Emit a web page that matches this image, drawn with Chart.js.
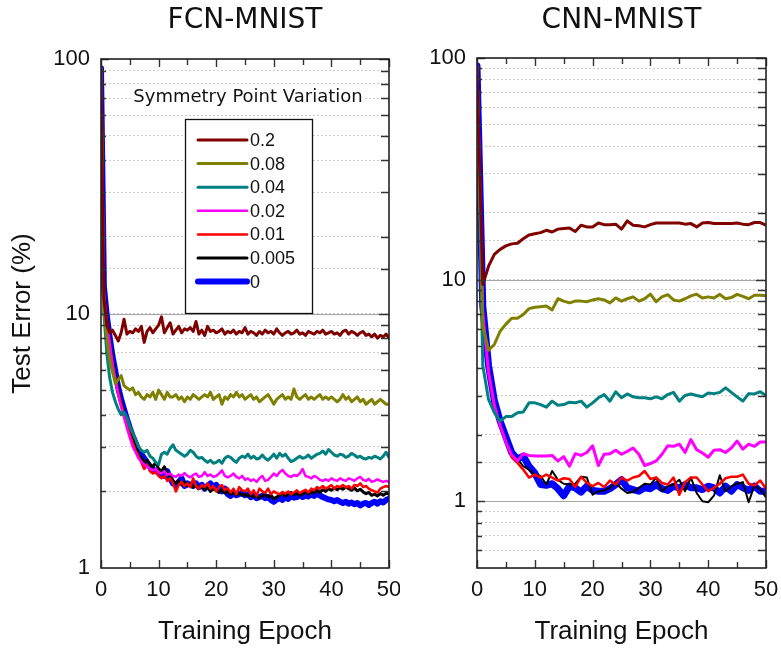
<!DOCTYPE html>
<html>
<head>
<meta charset="utf-8">
<script src="https://cdn.jsdelivr.net/npm/chart.js@4/dist/chart.umd.min.js"></script>
<style>
  html, body { margin: 0; padding: 0; background: #fff; }
  #wrap { position: relative; width: 781px; height: 652px; overflow: hidden; }
  canvas { position: absolute; top: 0; }
  #fcn { left: 0; }
  #cnn { left: 400px; }
</style>
</head>
<body>
<div id="wrap">
  <canvas id="fcn" width="400" height="652" style="width:400px;height:652px"></canvas>
  <canvas id="cnn" width="381" height="652" style="width:381px;height:652px"></canvas>
</div>
<script>
// ---- series labels (symmetry point variation) ----
const seriesNames = ['0.2', '0.08', '0.04', '0.02', '0.01', '0.005', '0'];
const seriesColors = ['#800000', '#808000', '#008080', '#ff00ff', '#ff0000', '#000000', '#0000ff'];

// ---- FCN-MNIST: test error (%) sampled every half epoch ----
const fcnEpochs = Array.from({ length: 101 }, (_, i) => i / 2);

const fcn02 = [
  92, 11.5, 9.0, 8.4, 8.6, 8.2, 7.8, 8.4, 9.5, 8.3,
  8.5, 8.4, 8.7, 8.5, 8.9, 7.7, 8.5, 8.8, 8.4, 8.7,
  9.0, 9.7, 8.4, 8.8, 9.2, 8.3, 8.6, 8.9, 8.4, 8.7,
  8.6, 8.8, 8.5, 9.3, 8.3, 8.6, 8.2, 8.9, 8.5, 8.6,
  8.4, 8.5, 8.7, 8.3, 8.5, 8.4, 8.6, 8.3, 8.5, 8.4,
  8.8, 8.3, 8.5, 8.4, 8.2, 8.5, 8.3, 8.6, 8.4, 8.5,
  8.3, 8.7, 8.4, 8.2, 8.4, 8.5, 8.3, 8.4, 8.6, 8.3,
  8.4, 8.2, 8.5, 8.4, 8.3, 8.5, 8.4, 8.6, 8.3, 8.4,
  8.5, 8.3, 8.4, 8.2, 8.5, 8.6, 8.3, 8.5, 8.4, 8.2,
  8.4, 8.5, 8.2, 8.3, 8.1, 8.3, 8.0, 8.2, 8.1, 8.3,
  8.0
];
const fcn008 = [
  92, 10.5, 8.0, 6.6, 5.9, 5.3, 5.5, 5.7, 5.2, 5.1,
  5.0, 5.1, 4.8, 4.9, 4.7, 4.6, 4.8, 4.7, 4.9, 4.6,
  5.0, 4.8, 4.6, 4.9, 4.7, 4.7, 4.8, 4.6, 4.7, 4.5,
  4.7, 4.6, 4.8, 4.7, 4.6, 4.7, 4.8, 4.7, 4.9, 4.6,
  4.7, 4.8, 4.4, 4.7, 4.6, 4.8, 4.7, 4.9, 4.7, 4.8,
  4.6, 4.7, 4.8, 4.6, 4.7, 4.5, 4.6, 4.7, 4.8, 4.6,
  4.4, 4.6, 4.7, 4.8, 4.6, 4.7, 4.6, 5.05, 4.7, 4.6,
  4.7, 4.8, 4.6, 4.7, 4.6, 4.7, 4.8, 4.6, 4.7, 4.6,
  4.7, 4.6, 4.5, 4.6, 4.8, 4.6, 4.7, 4.5, 4.6, 4.7,
  4.5, 4.6, 4.4, 4.5, 4.6, 4.4, 4.5, 4.6, 4.5, 4.4,
  4.4
];
const fcn004 = [
  92, 10.0, 7.0, 5.6, 4.9, 4.5, 4.2, 4.0, 4.1, 3.9,
  3.6, 3.4, 3.2, 3.0, 2.9, 2.85, 2.9, 2.75, 2.7, 2.6,
  2.55, 2.8, 2.85, 2.8, 2.95, 3.05, 2.9, 2.85, 2.8, 2.75,
  2.8, 2.9, 2.85, 2.75, 2.7, 2.72, 2.65, 2.6, 2.65, 2.58,
  2.6, 2.65, 2.58, 2.7, 2.75, 2.72, 2.65, 2.6, 2.7, 2.75,
  2.72, 2.8, 2.7, 2.75, 2.68, 2.7, 2.78, 2.7, 2.65, 2.72,
  2.8, 2.7, 2.82, 2.75, 2.8, 2.7, 2.62, 2.65, 2.7, 2.75,
  2.7, 2.72, 2.78, 2.7, 2.75, 2.8, 2.82, 2.88, 2.8, 2.92,
  2.85, 2.78, 2.75, 2.8, 2.78, 2.72, 2.75, 2.82, 2.78, 2.72,
  2.75, 2.7, 2.68, 2.72, 2.7, 2.75, 2.72, 2.68, 2.75, 2.85,
  2.72
];
const fcn002 = [
  92, 11.8, 9.2, 7.6, 6.3, 5.5, 4.8, 4.3, 3.9, 3.55,
  3.25, 3.0, 2.85, 2.7, 2.62, 2.55, 2.5, 2.45, 2.42, 2.45,
  2.38, 2.35, 2.4, 2.32, 2.35, 2.3, 2.28, 2.33, 2.3, 2.36,
  2.3, 2.27, 2.32, 2.35, 2.28, 2.3, 2.38, 2.3, 2.33, 2.28,
  2.3, 2.35, 2.42, 2.3, 2.27, 2.3, 2.35, 2.28, 2.25, 2.3,
  2.22, 2.25, 2.2, 2.23, 2.18, 2.25, 2.3, 2.2, 2.22, 2.28,
  2.35, 2.3, 2.38, 2.43, 2.35, 2.3, 2.28, 2.32, 2.3, 2.35,
  2.45, 2.3, 2.28, 2.25, 2.3, 2.27, 2.22, 2.2, 2.23, 2.2,
  2.25, 2.22, 2.2, 2.25, 2.22, 2.2, 2.25, 2.23, 2.2, 2.25,
  2.28, 2.22, 2.2, 2.24, 2.18, 2.2, 2.23, 2.2, 2.18, 2.2,
  2.18
];
const fcn001 = [
  92, 12.2, 9.4, 7.7, 6.4, 5.5, 4.9, 4.4, 4.0, 3.7,
  3.35, 3.1, 2.9, 2.75, 2.6, 2.45, 2.55, 2.4, 2.35, 2.38,
  2.3, 2.25, 2.3, 2.2, 2.25, 2.15, 2.0, 2.12, 2.18, 2.1,
  2.15, 2.08, 2.25, 2.1, 2.05, 2.12, 2.08, 2.15, 2.05, 2.1,
  2.0, 2.08, 2.12, 2.02, 2.06, 1.98, 2.05, 1.95, 2.08, 2.02,
  2.0, 2.05, 1.95, 2.02, 1.92, 2.05, 2.0, 1.97, 2.05, 1.95,
  2.0, 1.97, 1.95, 1.99, 1.96, 2.0, 1.95, 1.98, 2.02, 1.97,
  2.0, 2.03, 1.98, 2.05, 2.02, 2.08, 2.05, 2.1, 2.05, 2.08,
  2.12, 2.05, 2.1, 2.08, 2.12, 2.07, 2.1, 2.05, 2.12, 2.1,
  2.15, 2.08, 2.1, 2.05, 2.02, 2.0, 1.98, 2.05, 2.08, 2.1,
  2.08
];
const fcn0005 = [
  92, 12.5, 9.6, 7.9, 6.6, 5.7, 5.0, 4.5, 4.1, 3.75,
  3.45, 3.2, 3.0, 2.8, 2.7, 2.6, 2.65, 2.55, 2.5, 2.6,
  2.45, 2.4, 2.5, 2.35, 2.3, 2.2, 2.15, 2.2, 2.12, 2.18,
  2.1, 2.15, 2.08, 2.12, 2.05, 2.1, 2.03, 2.08, 2.0, 2.05,
  2.02, 1.98, 2.03, 1.97, 2.0, 1.95, 1.98, 1.94, 1.97, 1.93,
  1.95, 1.92, 1.94, 1.9, 1.93, 1.88, 1.92, 1.95, 1.9, 1.93,
  1.87, 1.9, 1.93, 1.96, 1.92, 1.95, 1.98, 1.94, 1.97, 1.93,
  1.96, 1.99, 1.95, 2.0, 1.97, 2.02, 1.98, 2.03, 2.0, 2.05,
  2.02, 2.06, 2.03, 2.07, 2.04, 2.08, 2.05, 2.02, 2.06, 2.01,
  2.04, 1.99, 1.96, 1.98, 1.93, 1.95, 1.92, 1.96, 1.93, 1.97,
  1.95
];
const fcn0 = [
  92, 12.8, 9.8, 8.1, 6.8, 5.9, 5.1, 4.6, 4.2, 3.85,
  3.55, 3.3, 3.1, 2.9, 2.8, 2.7, 2.6, 2.5, 2.45, 2.4,
  2.38, 2.35, 2.3, 2.4, 2.25, 2.15, 2.12, 2.18, 2.25, 2.1,
  2.15, 2.12, 2.1, 2.15, 2.08, 2.12, 2.05, 2.1, 2.15, 2.08,
  2.12, 2.05, 2.0, 2.05, 1.95, 1.92, 1.97, 1.93, 1.95, 1.98,
  1.93, 1.95, 1.9, 1.93, 1.88, 1.9, 1.92, 1.88, 1.9, 1.85,
  1.82, 1.86, 1.88, 1.85, 1.9, 1.87, 1.92, 1.89, 1.9, 1.94,
  1.9, 1.93, 1.91, 1.95, 1.92, 1.96, 1.93, 1.9, 1.88, 1.86,
  1.85, 1.83, 1.85, 1.82, 1.8, 1.82, 1.79, 1.81, 1.78, 1.8,
  1.76, 1.79, 1.8, 1.77, 1.8, 1.82, 1.79, 1.83, 1.81, 1.85,
  1.87
];

// ---- CNN-MNIST: test error (%) per epoch ----
const cnnEpochs = Array.from({ length: 51 }, (_, i) => i);

const cnn02 = [92, 9.5, 11.5, 13.0, 13.7, 14.2, 14.5, 14.6, 15.3, 15.9,
  16.1, 16.3, 16.7, 16.4, 16.9, 17.0, 17.1, 16.5, 17.6, 17.3,
  17.3, 18.0, 17.7, 17.7, 17.8, 16.9, 18.4, 17.6, 17.5, 17.3,
  17.7, 18.0, 18.0, 18.0, 18.0, 18.0, 17.8, 17.9, 17.3, 18.0,
  18.1, 17.9, 17.9, 17.9, 17.9, 18.0, 17.8, 17.7, 18.1, 18.1, 17.6];
const cnn008 = [92, 6.2, 4.8, 5.1, 5.85, 6.3, 6.7, 6.7, 6.96, 7.4,
  7.5, 7.55, 7.6, 7.3, 8.2, 8.0, 7.85, 8.0, 8.0, 7.95,
  8.1, 8.2, 8.1, 7.85, 8.27, 8.0, 8.2, 8.36, 8.0, 8.2,
  8.6, 7.95, 8.36, 8.55, 8.1, 8.0, 8.2, 8.45, 8.6, 8.27,
  8.36, 8.27, 8.58, 8.2, 8.3, 8.58, 8.4, 8.2, 8.5, 8.5, 8.45];
const cnn004 = [92, 4.1, 2.88, 2.51, 2.3, 2.41, 2.41, 2.51, 2.53, 2.78,
  2.78, 2.73, 2.66, 2.83, 2.71, 2.73, 2.8, 2.78, 2.83, 2.66,
  2.78, 2.93, 3.03, 2.83, 3.12, 2.93, 3.05, 2.96, 2.93, 2.93,
  2.9, 2.96, 2.9, 3.03, 3.1, 2.83, 3.0, 3.05, 3.0, 2.96,
  3.08, 3.06, 3.1, 3.25, 3.1, 2.96, 2.83, 3.06, 3.05, 3.12, 3.0];
const cnn002 = [92, 7.0, 3.8, 2.7, 2.2, 1.85, 1.62, 1.52, 1.64, 1.61,
  1.6, 1.6, 1.6, 1.61, 1.52, 1.59, 1.44, 1.64, 1.61, 1.66,
  1.78, 1.45, 1.63, 1.64, 1.7, 1.63, 1.68, 1.74, 1.63, 1.45,
  1.48, 1.52, 1.63, 1.78, 1.77, 1.81, 1.66, 1.9, 1.71, 1.65,
  1.58, 1.7, 1.71, 1.66, 1.74, 1.87, 1.72, 1.81, 1.77, 1.85, 1.85];
const cnn001 = [92, 7.2, 3.9, 2.75, 2.2, 1.85, 1.58, 1.49, 1.39, 1.28,
  1.32, 1.28, 1.32, 1.28, 1.24, 1.27, 1.26, 1.16, 1.29, 1.21,
  1.17, 1.21, 1.16, 1.24, 1.19, 1.28, 1.24, 1.28, 1.3, 1.37,
  1.26, 1.28, 1.21, 1.19, 1.28, 1.07, 1.22, 1.28, 1.28, 1.19,
  1.11, 1.15, 1.2, 1.27, 1.29, 1.29, 1.32, 1.2, 1.18, 1.24, 1.14];
const cnn0005 = [92, 7.4, 4.0, 2.8, 2.25, 1.9, 1.63, 1.55, 1.44, 1.39,
  1.32, 1.3, 1.19, 1.37, 1.25, 1.2, 1.19, 1.2, 1.29, 1.28,
  1.07, 1.11, 1.12, 1.15, 1.21, 1.14, 1.09, 1.1, 1.15, 1.2,
  1.19, 1.28, 1.11, 1.17, 1.19, 1.25, 1.11, 1.28, 1.09, 1.0,
  0.99, 1.06, 1.31, 1.11, 1.17, 1.2, 1.22, 0.99, 1.18, 1.13, 1.04];
const cnn0 = [92, 7.6, 4.1, 2.85, 2.3, 1.95, 1.66, 1.55, 1.6, 1.44,
  1.34, 1.19, 1.18, 1.2, 1.14, 1.06, 1.17, 1.15, 1.1, 1.17,
  1.12, 1.11, 1.11, 1.14, 1.19, 1.25, 1.15, 1.13, 1.11, 1.15,
  1.14, 1.19, 1.14, 1.12, 1.17, 1.15, 1.19, 1.15, 1.15, 1.13,
  1.17, 1.15, 1.09, 1.17, 1.11, 1.19, 1.15, 1.12, 1.17, 1.11, 1.11];

// ---- axis tick labels ----
const epochTickLabels = [0, 10, 20, 30, 40, 50];
const errorTickLabels = [1, 10, 100];

const fcnSeries = [fcn02, fcn008, fcn004, fcn002, fcn001, fcn0005, fcn0];
const cnnSeries = [cnn02, cnn008, cnn004, cnn002, cnn001, cnn0005, cnn0];
const fcnWidths = [3, 3, 3, 2.5, 2.5, 3, 6];
const cnnWidths = [3, 3, 3, 3, 2.5, 2, 7];

const SANS = '"Liberation Sans", Arial, sans-serif';
const VERD = '"DejaVu Sans", Verdana, sans-serif';

function isDecade(v) {
  const l = Math.log10(v);
  return Math.abs(l - Math.round(l)) < 1e-9;
}

// Frame, inward tick marks, solid decade gridlines, panel title and legend
const panelDecor = {
  id: 'panelDecor',
  beforeDatasetsDraw(chart, args, opts) {
    const { ctx, chartArea: a } = chart;
    const ys = chart.scales.y;
    ctx.save();
    ctx.strokeStyle = '#a6a6a6';
    ctx.lineWidth = 1.2;
    ys.ticks.forEach(t => {
      if (!isDecade(t.value)) return;
      const py = Math.round(ys.getPixelForValue(t.value)) + 0.5;
      if (py <= a.top + 1 || py >= a.bottom - 1) return;
      ctx.beginPath(); ctx.moveTo(a.left, py); ctx.lineTo(a.right, py); ctx.stroke();
    });
    ctx.restore();
  },
  afterDatasetsDraw(chart, args, opts) {
    const { ctx, chartArea: a } = chart;
    const xs = chart.scales.x, ys = chart.scales.y;
    ctx.save();

    // legend
    if (opts.legend) {
      const L = opts.legend;
      ctx.font = '18px ' + VERD;
      ctx.textAlign = 'center';
      ctx.textBaseline = 'middle';
      const hw = ctx.measureText(L.header).width;
      ctx.fillStyle = '#fff';
      ctx.fillRect(L.headerX - hw / 2 - 2, L.headerY - 10, hw + 4, 20);
      ctx.fillStyle = '#111';
      ctx.fillText(L.header, L.headerX, L.headerY);

      ctx.fillStyle = '#fff';
      ctx.fillRect(L.x, L.y, L.w, L.h);
      ctx.strokeStyle = '#111';
      ctx.lineWidth = 1.3;
      ctx.strokeRect(L.x + 0.5, L.y + 0.5, L.w, L.h);

      ctx.font = '18px ' + SANS;
      ctx.textAlign = 'left';
      chart.data.datasets.forEach((ds, i) => {
        const y = L.rowY + i * L.rowStep;
        ctx.strokeStyle = ds.borderColor;
        ctx.lineWidth = ds.borderWidth;
        ctx.lineCap = 'round';
        ctx.beginPath(); ctx.moveTo(L.lineX0, y); ctx.lineTo(L.lineX1, y); ctx.stroke();
        ctx.fillStyle = '#111';
        ctx.fillText(ds.label, L.lineX1 + 3, y + 1);
      });
      ctx.lineCap = 'butt';
    }

    // inward tick marks
    ctx.strokeStyle = '#333';
    ctx.lineWidth = 1.4;
    ys.ticks.forEach(t => {
      const py = Math.round(ys.getPixelForValue(t.value)) + 0.5;
      if (py < a.top || py > a.bottom) return;
      const dec = isDecade(t.value);
      ctx.beginPath();
      ctx.moveTo(a.left, py); ctx.lineTo(a.left + (dec ? 8 : 5), py);
      ctx.moveTo(a.right, py); ctx.lineTo(a.right - (dec ? 10 : 8), py);
      ctx.stroke();
    });
    xs.ticks.forEach(t => {
      const px = Math.round(xs.getPixelForValue(t.value)) + 0.5;
      const len = t.value % 10 === 0 ? 8 : 6;
      ctx.beginPath();
      ctx.moveTo(px, a.bottom); ctx.lineTo(px, a.bottom - len);
      ctx.moveTo(px, a.top); ctx.lineTo(px, a.top + len);
      ctx.stroke();
    });

    // frame
    ctx.strokeStyle = '#222';
    ctx.lineWidth = 1.6;
    ctx.strokeRect(a.left, a.top, a.right - a.left, a.bottom - a.top);

    // panel title
    ctx.fillStyle = '#111';
    ctx.font = '28px ' + VERD;
    ctx.textAlign = 'center';
    ctx.textBaseline = 'middle';
    ctx.fillText(opts.title, (a.left + a.right) / 2, opts.titleY);
    ctx.restore();
  }
};

function makePanel(canvasId, cfg) {
  const datasets = cfg.series.map((vals, i) => ({
    label: seriesNames[i],
    data: vals.map((v, k) => ({ x: cfg.epochs[k], y: v })),
    borderColor: seriesColors[i],
    backgroundColor: seriesColors[i],
    borderWidth: cfg.widths[i],
    pointRadius: 0,
    tension: 0,
    fill: false,
    borderJoinStyle: 'round',
    borderCapStyle: 'round'
  }));

  return new Chart(document.getElementById(canvasId), {
    type: 'line',
    data: { datasets },
    plugins: [panelDecor],
    options: {
      responsive: false,
      animation: false,
      devicePixelRatio: 1,
      events: [],
      layout: { padding: { top: cfg.top, right: cfg.right, bottom: 0, left: 0 } },
      plugins: {
        legend: { display: false },
        tooltip: { enabled: false },
        title: { display: false },
        panelDecor: { title: cfg.title, titleY: 21, legend: cfg.legend }
      },
      scales: {
        x: {
          type: 'linear',
          min: 0, max: 50,
          ticks: {
            stepSize: 5,
            autoSkip: false,
            maxRotation: 0,
            padding: 9,
            color: '#111',
            font: { family: SANS, size: 22 },
            callback: v => (epochTickLabels.includes(v) ? String(v) : '')
          },
          grid: { display: false, drawTicks: false },
          border: { display: false },
          title: {
            display: true,
            text: 'Training Epoch',
            color: '#111',
            font: { family: SANS, size: 26 },
            padding: { top: 0, bottom: 5 }
          },
          afterFit: s => { s.height = 84; s.paddingLeft = 0; s.paddingRight = 0; }
        },
        y: {
          type: 'logarithmic',
          min: cfg.yMin, max: 100,
          ticks: {
            autoSkip: false,
            padding: 11,
            color: '#111',
            font: { family: SANS, size: 22 },
            callback: v => (errorTickLabels.some(e => Math.abs(e - v) < 1e-9) ? String(v) : '')
          },
          grid: {
            drawTicks: false,
            color: '#cdcdcd',
            lineWidth: 1
          },
          border: { display: false, dash: [2, 2] },
          title: {
            display: cfg.yTitle,
            text: 'Test Error (%)',
            color: '#111',
            font: { family: SANS, size: 26 },
            padding: { top: 7, bottom: 0 }
          },
          afterFit: s => { s.width = cfg.left; s.paddingTop = 0; s.paddingBottom = 0; }
        }
      }
    }
  });
}

makePanel('fcn', {
  title: 'FCN-MNIST',
  epochs: fcnEpochs,
  series: fcnSeries,
  widths: fcnWidths,
  yMin: 1,
  yTitle: true,
  left: 101, right: 11, top: 59,
  legend: {
    header: 'Symmetry Point Variation',
    headerX: 248, headerY: 97,
    x: 185, y: 119, w: 127, h: 194,
    lineX0: 198, lineX1: 247,
    rowY: 140, rowStep: 23.6
  }
});

makePanel('cnn', {
  title: 'CNN-MNIST',
  epochs: cnnEpochs,
  series: cnnSeries,
  widths: cnnWidths,
  yMin: 0.5,
  yTitle: false,
  left: 77, right: 15, top: 58,
  legend: null
});
</script>
</body>
</html>
